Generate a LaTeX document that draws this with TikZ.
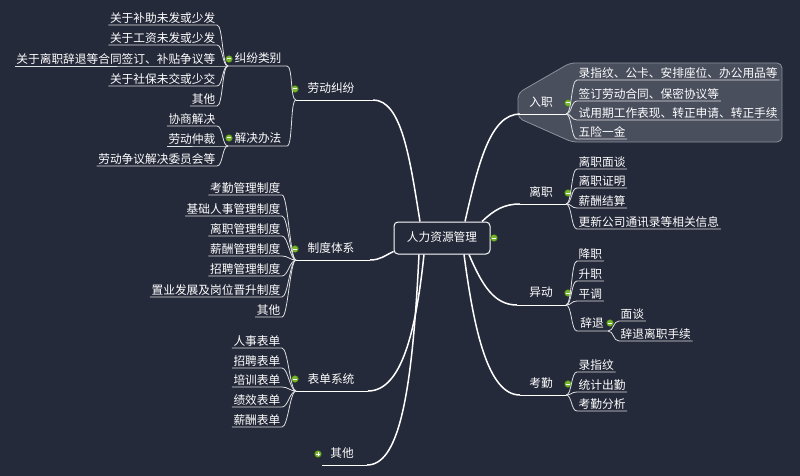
\documentclass[tikz,border=0pt]{standalone}
\usepackage{fontspec}
\setmainfont{Noto Sans CJK SC}
\definecolor{mapbg}{HTML}{252A3A}
\definecolor{dotgreen}{HTML}{74B62C}
\definecolor{groupfill}{HTML}{4A4F5E}
\definecolor{groupline}{HTML}{8C909A}

\begin{document}
\begin{tikzpicture}[x=1pt, y=-1pt,
    mainline/.style={white, line width=1.5pt},
    underl/.style={white, line width=0.9pt},
    subline/.style={white!85!mapbg, line width=0.8pt},
    lbl/.style={text=white, font=\fontsize{11.7}{13}\selectfont, inner xsep=1.5pt, inner ysep=0.5pt, text height=9pt, text depth=2pt},
    leftitem/.style={lbl, anchor=south east},
    rightitem/.style={lbl, anchor=south west},
    rootbox/.style={lbl, draw=white, line width=1pt, rounded corners=4pt, minimum width=96pt, minimum height=32pt, fill=mapbg},
    hubdot/.style={circle, fill=dotgreen, draw=dotgreen!55!black, line width=0.4pt, minimum size=7pt, inner sep=0pt,
        path picture={\draw[white, line width=1pt] (path picture bounding box.center) ++(-2pt,0) -- ++(4pt,0);}},
    hubplus/.style={circle, fill=dotgreen, draw=dotgreen!55!black, line width=0.4pt, minimum size=7pt, inner sep=0pt,
        path picture={\draw[white, line width=1pt] (path picture bounding box.center) ++(-2pt,0) -- ++(4pt,0)
            (path picture bounding box.center) ++(0,-2pt) -- ++(0,4pt);}},
  ]
  % Background
  \fill[mapbg] (0,0) rectangle (800,476);
  \useasboundingbox (0,0) rectangle (800,476);

  % Boundary round the first branch
  \draw[fill=groupfill, draw=groupline, line width=0.8pt, rounded corners=5pt]
    (518,93) -- (570,63) -- (782,63) -- (782,142) -- (572,142) -- (518,118) -- cycle;

  % Central topic
  \node[rootbox] (hr) at (442,238) {人力资源管理};
  \node[hubdot] (hr-dot) at (494,238) {};

  % ---------------- Left side ----------------
  % 劳动纠纷
  \coordinate (ldjf-a) at (373,100);
  \coordinate (ldjf-hub) at (296,100);
  \node[lbl] (ldjf) at (331,89) {劳动纠纷};
  \node[hubdot] (ldjf-dot) at (295,89) {};
  \draw[mainline] ([xshift=-22pt]hr.north) .. controls (410,160) and (402,100) .. (ldjf-a);
  \draw[underl] (ldjf-a) -- (ldjf-hub);

  % 纠纷类别
  \coordinate (jflb-a) at (287,66);
  \coordinate (jflb-hub) at (228,66);
  \node[lbl] (jflb) at (258,59) {纠纷类别};
  \node[hubdot] (jflb-dot) at (229,59) {};
  \draw[subline] (ldjf-hub) .. controls +(-6,0) and +(6,0) .. (jflb-a) -- (jflb-hub);
  \node[leftitem] (jf1) at (217,25) {关于补助未发或少发};
  \node[leftitem] (jf2) at (217,45) {关于工资未发或少发};
  \node[leftitem] (jf3) at (217,66) {关于离职辞退等合同签订、补贴争议等};
  \node[leftitem] (jf4) at (217,86) {关于社保未交或少交};
  \node[leftitem] (jf5) at (217,106) {其他};
  \draw[subline] (jflb-hub) .. controls +(-6,0) and +(6,0) .. (jf1.south east) -- (jf1.south west);
  \draw[subline] (jflb-hub) .. controls +(-6,0) and +(6,0) .. (jf2.south east) -- (jf2.south west);
  \draw[subline] (jflb-hub) -- (jf3.south east) -- (jf3.south west);
  \draw[subline] (jflb-hub) .. controls +(-6,0) and +(6,0) .. (jf4.south east) -- (jf4.south west);
  \draw[subline] (jflb-hub) .. controls +(-6,0) and +(6,0) .. (jf5.south east) -- (jf5.south west);

  % 解决办法
  \coordinate (jjbf-a) at (287,146);
  \coordinate (jjbf-hub) at (228,146);
  \node[lbl] (jjbf) at (258,139) {解决办法};
  \node[hubdot] (jjbf-dot) at (229,138) {};
  \draw[subline] (ldjf-hub) .. controls +(-6,0) and +(6,0) .. (jjbf-a) -- (jjbf-hub);
  \node[leftitem] (jj1) at (217,126) {协商解决};
  \node[leftitem] (jj2) at (217,146) {劳动仲裁};
  \node[leftitem] (jj3) at (217,166) {劳动争议解决委员会等};
  \draw[subline] (jjbf-hub) .. controls +(-6,0) and +(6,0) .. (jj1.south east) -- (jj1.south west);
  \draw[subline] (jjbf-hub) -- (jj2.south east) -- (jj2.south west);
  \draw[subline] (jjbf-hub) .. controls +(-6,0) and +(6,0) .. (jj3.south east) -- (jj3.south west);

  % 制度体系
  \coordinate (zdtx-a) at (370,260);
  \coordinate (zdtx-hub) at (296,260);
  \node[lbl] (zdtx) at (331,249) {制度体系};
  \node[hubdot] (zdtx-dot) at (295,249) {};
  \draw[mainline] ([yshift=3pt]hr.south west) .. controls (384,256) and (380,260) .. (zdtx-a);
  \draw[underl] (zdtx-a) -- (zdtx-hub);
  \node[leftitem] (zd1) at (282,195) {考勤管理制度};
  \node[leftitem] (zd2) at (282,216) {基础人事管理制度};
  \node[leftitem] (zd3) at (282,236) {离职管理制度};
  \node[leftitem] (zd4) at (282,256) {薪酬管理制度};
  \node[leftitem] (zd5) at (282,276) {招聘管理制度};
  \node[leftitem] (zd6) at (282,297) {置业发展及岗位晋升制度};
  \node[leftitem] (zd7) at (282,317) {其他};
  \draw[subline] (zdtx-hub) .. controls +(-6,0) and +(6,0) .. (zd1.south east) -- (zd1.south west);
  \draw[subline] (zdtx-hub) .. controls +(-6,0) and +(6,0) .. (zd2.south east) -- (zd2.south west);
  \draw[subline] (zdtx-hub) .. controls +(-6,0) and +(6,0) .. (zd3.south east) -- (zd3.south west);
  \draw[subline] (zdtx-hub) .. controls +(-6,0) and +(6,0) .. (zd4.south east) -- (zd4.south west);
  \draw[subline] (zdtx-hub) .. controls +(-6,0) and +(6,0) .. (zd5.south east) -- (zd5.south west);
  \draw[subline] (zdtx-hub) .. controls +(-6,0) and +(6,0) .. (zd6.south east) -- (zd6.south west);
  \draw[subline] (zdtx-hub) .. controls +(-6,0) and +(6,0) .. (zd7.south east) -- (zd7.south west);

  % 表单系统
  \coordinate (bdxt-a) at (368,391);
  \coordinate (bdxt-hub) at (296,391);
  \node[lbl] (bdxt) at (331,380) {表单系统};
  \node[hubdot] (bdxt-dot) at (295,379) {};
  \draw[mainline] ([xshift=-18pt]hr.south) .. controls (416,330) and (402,391) .. (bdxt-a);
  \draw[underl] (bdxt-a) -- (bdxt-hub);
  \node[leftitem] (bd1) at (282,348) {人事表单};
  \node[leftitem] (bd2) at (282,368) {招聘表单};
  \node[leftitem] (bd3) at (282,387) {培训表单};
  \node[leftitem] (bd4) at (282,407) {绩效表单};
  \node[leftitem] (bd5) at (282,427) {薪酬表单};
  \draw[subline] (bdxt-hub) .. controls +(-6,0) and +(6,0) .. (bd1.south east) -- (bd1.south west);
  \draw[subline] (bdxt-hub) .. controls +(-6,0) and +(6,0) .. (bd2.south east) -- (bd2.south west);
  \draw[subline] (bdxt-hub) .. controls +(-6,0) and +(6,0) .. (bd3.south east) -- (bd3.south west);
  \draw[subline] (bdxt-hub) .. controls +(-6,0) and +(6,0) .. (bd4.south east) -- (bd4.south west);
  \draw[subline] (bdxt-hub) .. controls +(-6,0) and +(6,0) .. (bd5.south east) -- (bd5.south west);

  % 其他 (collapsed)
  \coordinate (qt-a) at (367,465);
  \coordinate (qt-hub) at (322,465);
  \node[lbl] (qt) at (342,454) {其他};
  \node[hubplus] (qt-dot) at (318,454) {};
  \draw[mainline] ([xshift=-23pt]hr.south) .. controls (412,400) and (398,465) .. (qt-a);
  \draw[underl] (qt-a) -- (qt-hub);

  % ---------------- Right side ----------------
  % 入职
  \coordinate (rz-a) at (520,114);
  \coordinate (rz-hub) at (566,114);
  \node[lbl] (rz) at (541,103) {入职};
  \node[hubdot] (rz-dot) at (568,103) {};
  \draw[mainline] ([xshift=23pt]hr.north) .. controls (478,165) and (490,114) .. (rz-a);
  \draw[underl] (rz-a) -- (rz-hub);
  \node[rightitem] (rz1) at (577,80) {录指纹、公卡、安排座位、办公用品等};
  \node[rightitem] (rz2) at (577,101) {签订劳动合同、保密协议等};
  \node[rightitem] (rz3) at (577,120) {试用期工作表现、转正申请、转正手续};
  \node[rightitem] (rz4) at (577,139) {五险一金};
  \draw[subline] (rz-hub) .. controls +(6,0) and +(-6,0) .. (rz1.south west) -- (rz1.south east);
  \draw[subline] (rz-hub) .. controls +(6,0) and +(-6,0) .. (rz2.south west) -- (rz2.south east);
  \draw[subline] (rz-hub) .. controls +(6,0) and +(-6,0) .. (rz3.south west) -- (rz3.south east);
  \draw[subline] (rz-hub) .. controls +(6,0) and +(-6,0) .. (rz4.south west) -- (rz4.south east);

  % 离职
  \coordinate (lz-a) at (520,204);
  \coordinate (lz-hub) at (566,204);
  \node[lbl] (lz) at (541,193) {离职};
  \node[hubdot] (lz-dot) at (568,193) {};
  \draw[mainline] ([xshift=40pt]hr.north) .. controls (494,210) and (504,204) .. (lz-a);
  \draw[underl] (lz-a) -- (lz-hub);
  \node[rightitem] (lz1) at (577,169) {离职面谈};
  \node[rightitem] (lz2) at (577,188) {离职证明};
  \node[rightitem] (lz3) at (577,208) {薪酬结算};
  \node[rightitem] (lz4) at (577,229) {更新公司通讯录等相关信息};
  \draw[subline] (lz-hub) .. controls +(6,0) and +(-6,0) .. (lz1.south west) -- (lz1.south east);
  \draw[subline] (lz-hub) .. controls +(6,0) and +(-6,0) .. (lz2.south west) -- (lz2.south east);
  \draw[subline] (lz-hub) .. controls +(6,0) and +(-6,0) .. (lz3.south west) -- (lz3.south east);
  \draw[subline] (lz-hub) .. controls +(6,0) and +(-6,0) .. (lz4.south west) -- (lz4.south east);

  % 异动
  \coordinate (yd-a) at (517,305);
  \coordinate (yd-hub) at (566,305);
  \node[lbl] (yd) at (541,293) {异动};
  \node[hubdot] (yd-dot) at (568,293) {};
  \draw[mainline] ([xshift=27pt]hr.south) .. controls (482,285) and (494,305) .. (yd-a);
  \draw[underl] (yd-a) -- (yd-hub);
  \node[rightitem] (yd1) at (577,261) {降职};
  \node[rightitem] (yd2) at (577,281) {升职};
  \node[rightitem] (yd3) at (577,301) {平调};
  \draw[subline] (yd-hub) .. controls +(6,0) and +(-6,0) .. (yd1.south west) -- (yd1.south east);
  \draw[subline] (yd-hub) .. controls +(6,0) and +(-6,0) .. (yd2.south west) -- (yd2.south east);
  \draw[subline] (yd-hub) .. controls +(6,0) and +(-6,0) .. (yd3.south west) -- (yd3.south east);

  % 辞退
  \coordinate (ct-a) at (577,331);
  \coordinate (ct-hub) at (608,331);
  \node[lbl] (ct) at (592,324) {辞退};
  \node[hubdot] (ct-dot) at (610,323) {};
  \draw[subline] (yd-hub) .. controls +(6,0) and +(-6,0) .. (ct-a) -- (ct-hub);
  \node[rightitem] (ct1) at (619,321) {面谈};
  \node[rightitem] (ct2) at (619,341) {辞退离职手续};
  \draw[subline] (ct-hub) .. controls +(6,0) and +(-6,0) .. (ct1.south west) -- (ct1.south east);
  \draw[subline] (ct-hub) .. controls +(6,0) and +(-6,0) .. (ct2.south west) -- (ct2.south east);

  % 考勤
  \coordinate (kq-a) at (520,395);
  \coordinate (kq-hub) at (566,395);
  \node[lbl] (kq) at (541,384) {考勤};
  \node[hubdot] (kq-dot) at (568,384) {};
  \draw[mainline] ([xshift=22pt]hr.south) .. controls (474,330) and (488,395) .. (kq-a);
  \draw[underl] (kq-a) -- (kq-hub);
  \node[rightitem] (kq1) at (577,372) {录指纹};
  \node[rightitem] (kq2) at (577,392) {统计出勤};
  \node[rightitem] (kq3) at (577,411) {考勤分析};
  \draw[subline] (kq-hub) .. controls +(6,0) and +(-6,0) .. (kq1.south west) -- (kq1.south east);
  \draw[subline] (kq-hub) .. controls +(6,0) and +(-6,0) .. (kq2.south west) -- (kq2.south east);
  \draw[subline] (kq-hub) .. controls +(6,0) and +(-6,0) .. (kq3.south west) -- (kq3.south east);
\end{tikzpicture}
\end{document}
